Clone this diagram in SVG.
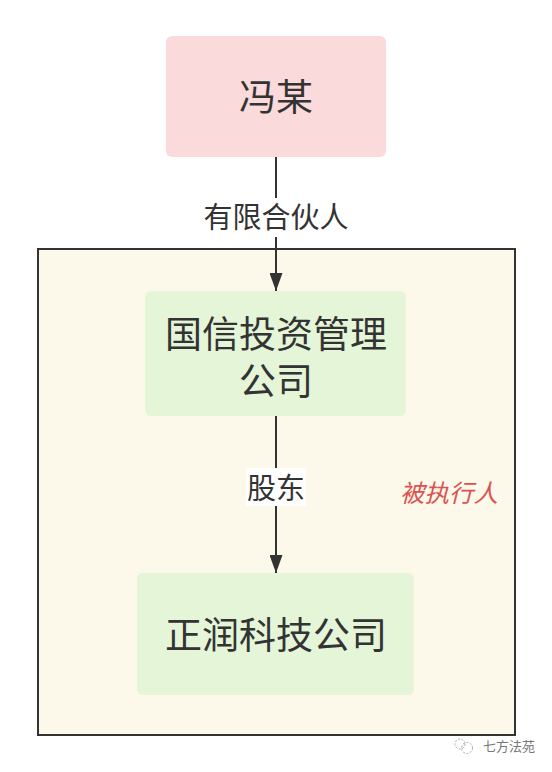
<svg xmlns="http://www.w3.org/2000/svg" width="552" height="772" viewBox="0 0 552 772">
<defs>
<marker id="arr" viewBox="0 0 18 13" refX="18" refY="6.5" markerWidth="18" markerHeight="13" markerUnits="userSpaceOnUse" orient="auto">
<path d="M0,0 L18,6.5 L0,13 z" fill="#333"/>
</marker>
</defs>
<style>
.t{font-family:"Noto Sans CJK SC","Noto Sans",sans-serif;fill:#333;text-anchor:middle;}
.node{font-size:37px;}
.lbl{font-size:29px;}
.edge{stroke:#333;stroke-width:2;fill:none;}
</style>
<rect width="552" height="772" fill="#fff"/>
<g id="container">
<rect x="38" y="249" width="477" height="486" fill="#fcf8ea" stroke="#333" stroke-width="2"/>
<text x="449" y="502" class="t" style="font-size:24.5px;font-style:italic;fill:#d9534f">被执行人</text>
</g>
<g id="node-feng">
<rect x="166" y="36" width="220" height="121" rx="6" fill="#fadadb"/>
<text x="276" y="111" class="t node">冯某</text>
</g>
<g id="node-guoxin">
<rect x="145" y="291" width="261" height="125" rx="6" fill="#e4f5d8"/>
<text class="t node"><tspan x="276" y="348">国信投资管理</tspan><tspan x="276" y="395">公司</tspan></text>
</g>
<g id="node-zhengrun">
<rect x="137" y="573" width="277" height="122" rx="6" fill="#e4f5d8"/>
<text x="276" y="649" class="t node">正润科技公司</text>
</g>
<g id="connectors">
<path d="M276,157 L276,291" class="edge" marker-end="url(#arr)"/>
<rect x="200" y="198" width="152" height="39" fill="#fff"/>
<text x="276" y="228" class="t lbl">有限合伙人</text>
<path d="M276,416 L276,573" class="edge" marker-end="url(#arr)"/>
<rect x="246" y="468" width="60" height="38" fill="#fff"/>
<text x="276" y="499" class="t lbl">股东</text>
</g>
<g id="watermark">
<circle cx="460" cy="744" r="5" fill="none" stroke="#aaa" stroke-width="1" stroke-dasharray="2,1.5"/>
<circle cx="467" cy="748" r="5.5" fill="none" stroke="#aaa" stroke-width="1" stroke-dasharray="2,1.5"/>
<text x="509" y="751" class="t" style="font-size:13px;fill:#777">七方法苑</text>
</g>
</svg>
